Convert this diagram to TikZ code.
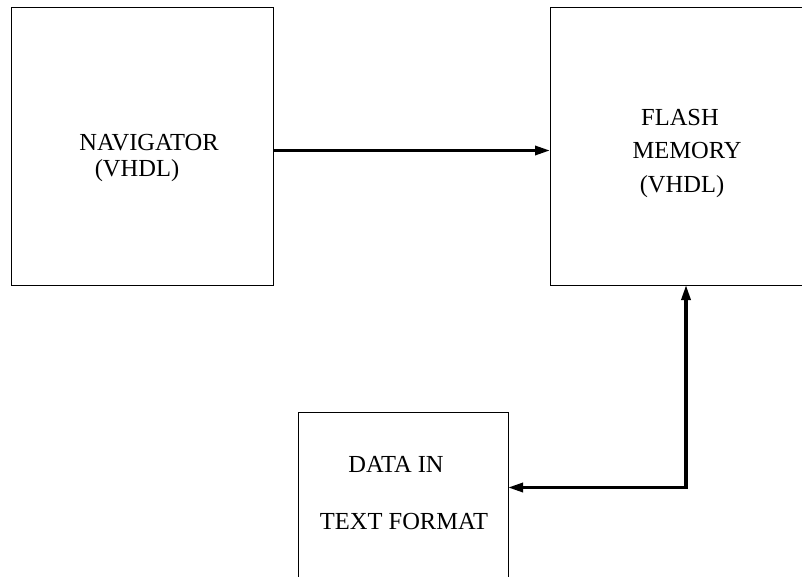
\documentclass[tikz,border=0pt]{standalone}
\usepackage{fontspec}
\setmainfont{Liberation Serif}
\usetikzlibrary{positioning,arrows.meta}

\tikzset{
  blok/.style={draw, line width=1pt, inner sep=0pt, outer sep=0pt},
  lbl/.style={anchor=base, inner sep=0pt, font=\fontsize{24.5}{28}\selectfont},
  conn/.style={line width=3.2pt, -{Triangle[length=15pt,width=9pt]}},
}

\begin{document}
\begin{tikzpicture}[x=1pt, y=-1pt]
      \useasboundingbox (0,0) rectangle (802,577);
      \clip (0,0) rectangle (802,577);

        \node [blok, minimum width=262pt, minimum height=277pt] (nav) at (142,146.5) {};
        \node [blok, minimum width=272pt, minimum height=277pt, right=277pt of nav] (flash) {};
        \node [blok, minimum width=210pt, minimum height=210pt] (data) at (403,517) {};

        \node [lbl] (navtxt) at (149,151) {NAVIGATOR};
        \node [lbl] (navlang) at (137,177) {(VHDL)};
        \node [lbl] (flashtxt) at (680,126) {FLASH};
        \node [lbl] (memtxt) at (687,159) {MEMORY};
        \node [lbl] (flashlang) at (682,193) {(VHDL)};
        \node [lbl] (datatxt) at (396,472) {DATA IN};
        \node [lbl] (fmttxt) at (404,529) {TEXT FORMAT};

        \coordinate (bend) at (flash.south |- 0,487.5);

        \draw [conn] ([yshift=-4pt]nav.east) -- ([yshift=-4pt]flash.west);
        \draw [conn, {Triangle[length=15pt,width=9pt]}-{Triangle[length=15pt,width=9pt]}]
          (data.east |- bend) -- (bend) -- (flash.south);
    \end{tikzpicture}
\end{document}
